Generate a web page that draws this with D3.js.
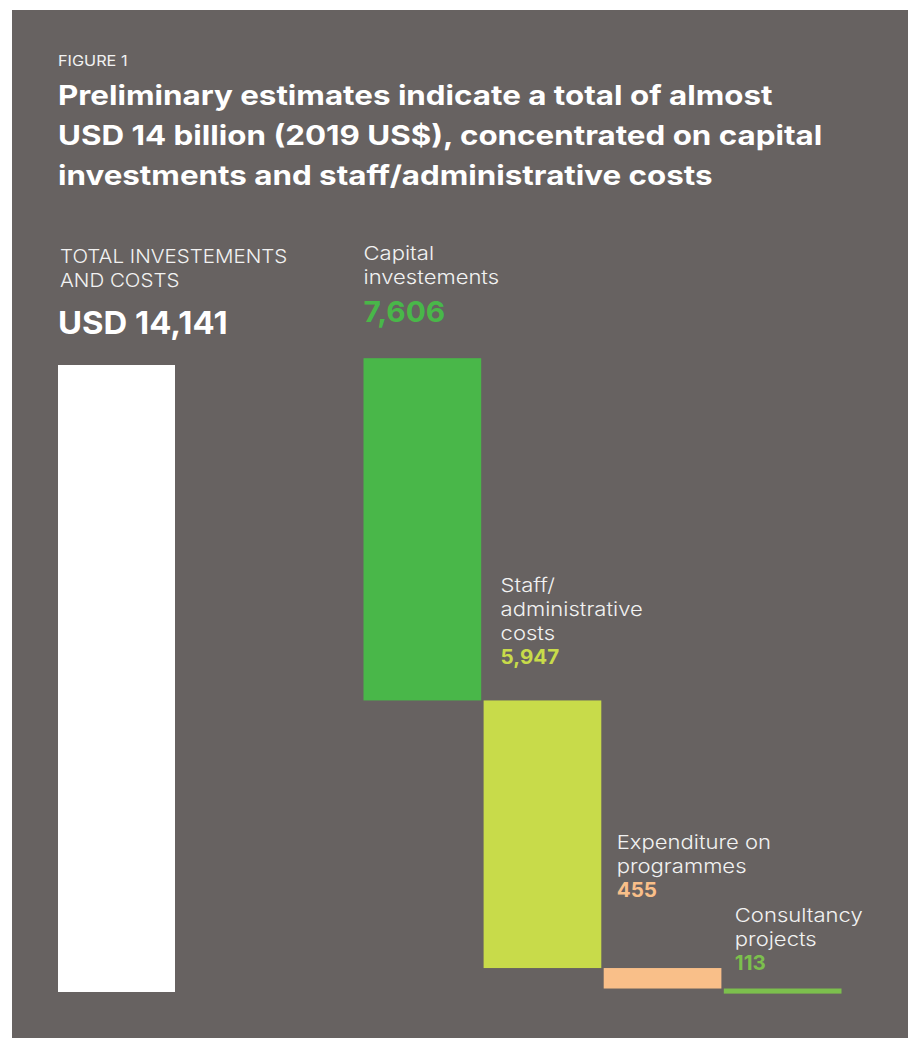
<!DOCTYPE html>
<html>
<head>
<meta charset="utf-8">
<script src="https://cdn.jsdelivr.net/npm/d3@7"></script>
<style>
  html, body { margin: 0; padding: 0; background: #ffffff; }
  svg { display: block; }
  text { font-family: Inter, "Open Sans", "DejaVu Sans", sans-serif; }
</style>
</head>
<body>
<svg id="chart" width="908" height="1038"></svg>
<script>
// ---- data ----
const figureLabel = "FIGURE 1";
const titleLines = [
  "Preliminary estimates indicate a total of almost",
  "USD 14 billion (2019 US$), concentrated on capital",
  "investments and staff/administrative costs"
];
const totalLabelLines = ["TOTAL INVESTEMENTS", "AND COSTS"];
const totalValue = 14141;
const totalPrefix = "USD ";
const categories = ["Capital investements", "Staff/administrative costs", "Expenditure on programmes", "Consultancy projects"];
const categoryLabelLines = [["Capital", "investements"], ["Staff/", "administrative", "costs"], ["Expenditure on", "programmes"], ["Consultancy", "projects"]];
const values = [7606, 5947, 455, 113];
const colors = ["#49b749", "#c8db4a", "#f9bf89", "#7cbf4d"];

// ---- layout ----
const W = 908, H = 1038;
const bg = "#676261";
const textColor = "#f2f2f2";
const labelDx = [0, 17, 13, 11];
const valueGap = [36, 36, 71, 19];
const valueSize = [29, 20, 20, 20];

// widen glyphs a little to mimic the wide geometric original typeface
function stretch(sel, k) {
  sel.each(function() {
    const w = this.getComputedTextLength();
    d3.select(this).attr("textLength", w * k).attr("lengthAdjust", "spacingAndGlyphs");
  });
}

const svg = d3.select("#chart");
svg.append("rect").attr("x", 12).attr("y", 10).attr("width", W - 12).attr("height", H - 10).attr("fill", bg);

const fmt = d3.format(",");

// title
svg.append("text").attr("x", 58).attr("y", 66).attr("fill", textColor)
  .attr("font-size", 14).attr("font-weight", 400).text(figureLabel)
  .call(stretch, 1.16);
svg.append("g").selectAll("text").data(titleLines).join("text")
  .attr("x", 58).attr("y", (d, i) => 105 + i * 40)
  .attr("fill", "#ffffff").attr("font-size", 27).attr("font-weight", 700)
  .text(d => d)
  .call(stretch, 1.16);

// scales
const y = d3.scaleLinear().domain([0, totalValue]).range([994.5, 358.2]);
const yTotal = d3.scaleLinear().domain([0, totalValue]).range([992, 365]);
const x = d3.scaleBand().domain(categories).range([363.5, 841.5]).paddingInner(0.02).paddingOuter(0);
const xTotal = d3.scaleBand().domain(["total"]).range([58, 175]);

// total bar
svg.append("rect")
  .attr("x", xTotal("total")).attr("width", xTotal.bandwidth())
  .attr("y", yTotal(totalValue)).attr("height", yTotal(0) - yTotal(totalValue))
  .attr("fill", "#ffffff");

svg.append("g").selectAll("text").data(totalLabelLines).join("text")
  .attr("x", 60).attr("y", (d, i) => 263 + i * 24)
  .attr("fill", textColor).attr("font-size", 19).attr("font-weight", 300)
  .text(d => d)
  .call(stretch, 1.08);
svg.append("text").attr("x", 58).attr("y", 334)
  .attr("fill", "#ffffff").attr("font-size", 31).attr("font-weight", 700)
  .text(totalPrefix + fmt(totalValue))
  .call(stretch, 1.06);

// waterfall
const cum = [];
values.reduce((acc, v, i) => { cum[i] = acc; return acc - v; }, totalValue);
const items = categories.map((c, i) => ({ c, v: values[i], start: cum[i], end: cum[i] - values[i], i }));

svg.append("g").selectAll("rect").data(items).join("rect")
  .attr("x", d => x(d.c)).attr("width", x.bandwidth())
  .attr("y", d => y(d.start)).attr("height", d => y(d.end) - y(d.start))
  .attr("fill", d => colors[d.i]);

const lab = svg.append("g").selectAll("g").data(items).join("g")
  .attr("transform", d => `translate(${x(d.c) + labelDx[d.i]},${y(d.start) - valueGap[d.i]})`);
lab.append("text")
  .attr("fill", d => colors[d.i]).attr("font-size", d => valueSize[d.i]).attr("font-weight", 700)
  .text(d => fmt(d.v))
  .call(stretch, 1.03);
lab.each(function(d) {
  const lines = categoryLabelLines[d.i];
  const n = lines.length;
  const valueLine = d.i === 0 ? 38 : 24;
  d3.select(this).selectAll("text.l").data(lines).join("text").attr("class", "l")
    .attr("y", (t, k) => -valueLine - (n - 1 - k) * 24)
    .attr("fill", textColor).attr("font-size", 19).attr("font-weight", 300)
    .text(t => t)
    .call(stretch, 1.16);
});
</script>
</body>
</html>
